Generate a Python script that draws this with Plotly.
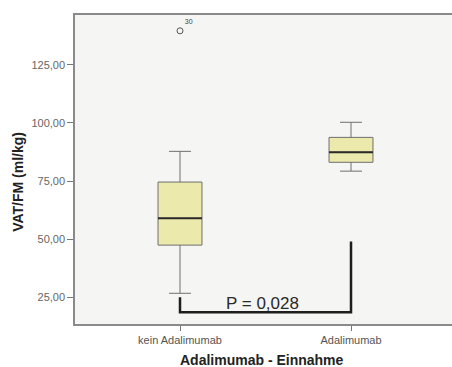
import plotly.graph_objects as go

# Group labels and box statistics (VAT/FM in ml/kg)
groups = ["kein Adalimumab", "Adalimumab"]
q1 = [47.5, 83.1]
median = [59.0, 87.4]
q3 = [74.6, 93.8]
lower_whisker = [26.8, 79.3]
upper_whisker = [87.8, 100.3]

# Outlier case in the first group
outlier_value = [139.6]
outlier_case = ["30"]

# Significance bracket between the groups
bracket_y = [25.1, 18.7, 18.7, 49.1]
p_label = "P = 0,028"

y_ticks = [25, 50, 75, 100, 125]
y_tick_text = ["25,00", "50,00", "75,00", "100,00", "125,00"]

FONT = "Liberation Sans, Arial, sans-serif"
box_w = 0.257
pos = list(range(len(groups)))

fig = go.Figure()

for i, g in enumerate(groups):
    fig.add_trace(go.Box(
        x=[pos[i]], q1=[q1[i]], median=[median[i]], q3=[q3[i]],
        lowerfence=[lower_whisker[i]], upperfence=[upper_whisker[i]],
        width=box_w, whiskerwidth=0.5,
        fillcolor="#ebe9ab", line=dict(color="#6e6e6e", width=1),
        boxpoints=False, showlegend=False, hoverinfo="skip",
    ))
    # heavier median stroke
    fig.add_trace(go.Scatter(
        x=[pos[i] - box_w / 2, pos[i] + box_w / 2], y=[median[i], median[i]],
        mode="lines", line=dict(color="#2a2a2a", width=2),
        showlegend=False, hoverinfo="skip",
    ))

fig.add_trace(go.Scatter(
    x=[pos[0]], y=outlier_value, mode="markers+text",
    marker=dict(symbol="circle-open", size=6, color="#555555", line=dict(width=1)),
    text=outlier_case, textposition="top right",
    textfont=dict(family=FONT, size=7, color="#444444"),
    showlegend=False, hoverinfo="skip",
))

fig.add_trace(go.Scatter(
    x=[pos[0], pos[0], pos[1], pos[1]], y=bracket_y, mode="lines",
    line=dict(color="#1e1e1e", width=2.5),
    showlegend=False, hoverinfo="skip",
))

fig.add_annotation(
    x=0.485, y=22.6, text=p_label, showarrow=False,
    font=dict(family=FONT, size=17, color="#2a2a2a"),
)

fig.add_annotation(
    xref="paper", yref="paper", x=(262 - 75) / 377, y=-0.118,
    text="<b>Adalimumab - Einnahme</b>", showarrow=False,
    font=dict(family=FONT, size=14, color="#222222"), yanchor="middle",
)
fig.add_annotation(
    xref="paper", yref="paper", x=(18 - 75) / 377, y=0.46,
    text="<b>VAT/FM (ml/kg)</b>", showarrow=False, textangle=-90,
    font=dict(family=FONT, size=14, color="#222222"), xanchor="center",
)

fig.update_layout(
    width=452, height=367,
    margin=dict(l=75, r=0, t=15, b=43),
    paper_bgcolor="white", plot_bgcolor="#f5f5f3",
    font=dict(family=FONT),
)
fig.update_xaxes(
    range=[-105 / 171, 1 + 101 / 171],
    tickvals=pos, ticktext=groups,
    tickfont=dict(family=FONT, size=11, color="#555555"),
    ticks="outside", ticklen=5, tickcolor="#777777",
    showline=True, linecolor="#8a8a8a", linewidth=1.5, mirror=True,
    showgrid=False, zeroline=False,
)
fig.update_yaxes(
    range=[13.6, 146.4],
    tickvals=y_ticks, ticktext=y_tick_text,
    tickfont=dict(family=FONT, size=11, color="#666666"),
    ticks="outside", ticklen=6, tickcolor="#777777",
    showline=True, linecolor="#8a8a8a", linewidth=1.5, mirror=False,
    showgrid=False, zeroline=False,
)

fig.write_html("out.html")
